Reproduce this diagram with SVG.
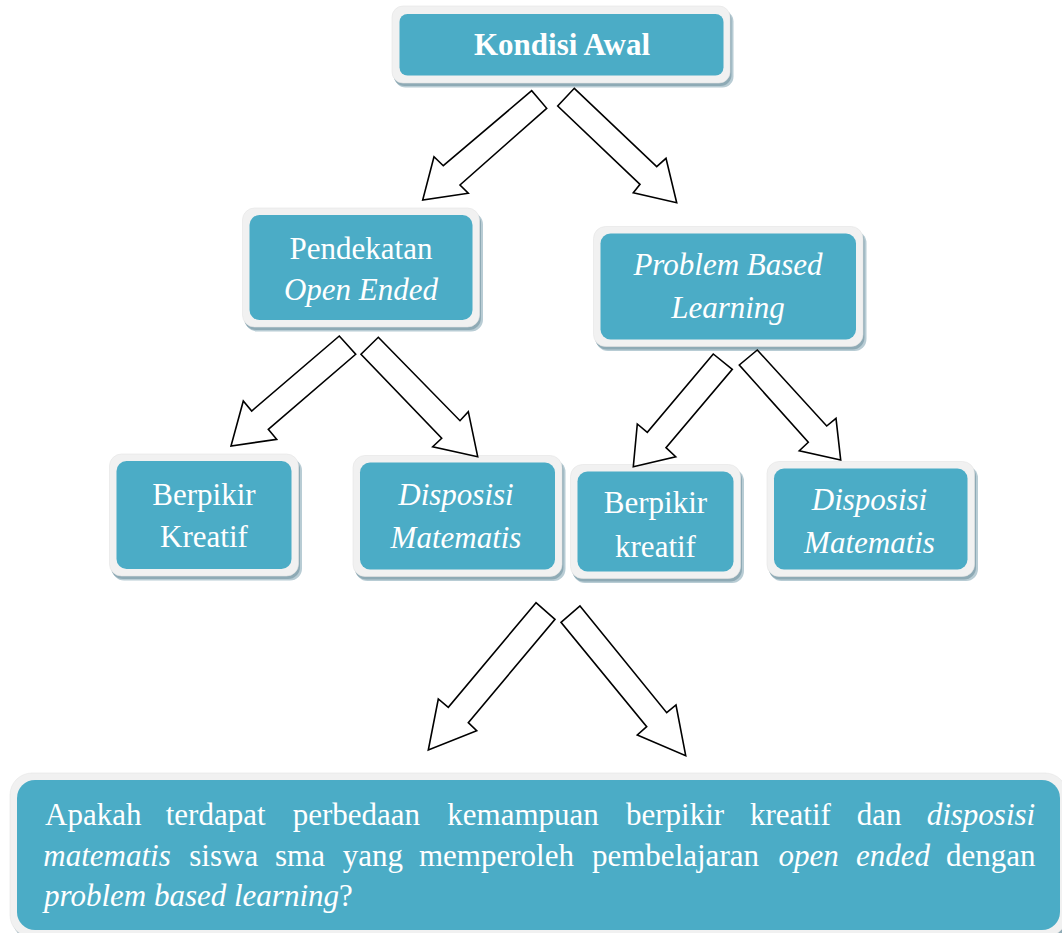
<svg xmlns="http://www.w3.org/2000/svg" width="1062" height="933" viewBox="0 0 1062 933">
<style>
.shadow2{fill:#b8ccd4}
.shadow{fill:#8eaab5}
.frame{fill:#f1f1f1;stroke:#e4e4e4;stroke-width:0.6}
.inner{fill:#4bacc6}
.t{font-family:"Liberation Serif","Times New Roman",serif;font-size:31px;fill:#ffffff;text-anchor:middle}
.tb{font-family:"Liberation Serif","Times New Roman",serif;font-size:31px;fill:#ffffff}
.i{font-style:italic}
.b{font-weight:bold}
.arrow{fill:#ffffff;stroke:#000000;stroke-width:1.6;stroke-linejoin:miter}
</style>
<defs>
<clipPath id="clipBottom"><rect x="17" y="780" width="1043" height="133"/></clipPath>
</defs>
<rect width="1062" height="933" fill="#ffffff"/>

<g id="node-kondisi-awal">
<rect class="shadow2" x="394.5" y="10.5" width="339" height="77" rx="11"/>
<rect class="shadow" x="393.5" y="9" width="338" height="77" rx="11"/>
<rect class="frame" x="392" y="6" width="338" height="77" rx="11"/>
<rect class="inner" x="399.5" y="14" width="324" height="61.5" rx="8"/>
<text class="t b" x="562" y="55">Kondisi Awal</text>
</g>

<g id="node-open-ended">
<rect class="shadow2" x="245" y="212.5" width="238" height="119" rx="12"/>
<rect class="shadow" x="244" y="211" width="237" height="119" rx="12"/>
<rect class="frame" x="242.5" y="208" width="237" height="119" rx="12"/>
<rect class="inner" x="249.5" y="215" width="223" height="105" rx="10"/>
<text class="t" x="361" y="259">Pendekatan</text>
<text class="t i" x="361" y="300">Open Ended</text>
</g>

<g id="node-pbl">
<rect class="shadow2" x="596" y="231" width="270.5" height="120" rx="12"/>
<rect class="shadow" x="595" y="229.5" width="269.5" height="120" rx="12"/>
<rect class="frame" x="593.5" y="226.5" width="269.5" height="120" rx="12"/>
<rect class="inner" x="600.5" y="233.5" width="255.5" height="106" rx="10"/>
<text class="t i" x="728" y="275">Problem Based</text>
<text class="t i" x="728" y="318">Learning</text>
</g>

<g id="node-berpikir-kreatif-1">
<rect class="shadow2" x="112" y="458.5" width="190" height="122" rx="12"/>
<rect class="shadow" x="111" y="457" width="189" height="122" rx="12"/>
<rect class="frame" x="109.5" y="454" width="189" height="122" rx="12"/>
<rect class="inner" x="116.5" y="461" width="175" height="108" rx="10"/>
<text class="t" x="204" y="505">Berpikir</text>
<text class="t" x="204" y="547">Kreatif</text>
</g>

<g id="node-disposisi-1">
<rect class="shadow2" x="355.5" y="460" width="210" height="121" rx="12"/>
<rect class="shadow" x="354.5" y="458.5" width="209" height="121" rx="12"/>
<rect class="frame" x="353" y="455.5" width="209" height="121" rx="12"/>
<rect class="inner" x="360" y="462.5" width="195" height="107" rx="10"/>
<text class="t i" x="456" y="505">Disposisi</text>
<text class="t i" x="456" y="548">Matematis</text>
</g>

<g id="node-berpikir-kreatif-2">
<rect class="shadow2" x="573" y="469" width="171" height="114" rx="12"/>
<rect class="shadow" x="572" y="467.5" width="170" height="114" rx="12"/>
<rect class="frame" x="570.5" y="464.5" width="170" height="114" rx="12"/>
<rect class="inner" x="577.5" y="471.5" width="156" height="100" rx="10"/>
<text class="t" x="655.5" y="513">Berpikir</text>
<text class="t" x="655.5" y="557">kreatif</text>
</g>

<g id="node-disposisi-2">
<rect class="shadow2" x="769.5" y="466" width="208.5" height="115" rx="12"/>
<rect class="shadow" x="768.5" y="464.5" width="207.5" height="115" rx="12"/>
<rect class="frame" x="767" y="461.5" width="207.5" height="115" rx="12"/>
<rect class="inner" x="774" y="468.5" width="193.5" height="101" rx="10"/>
<text class="t i" x="869.5" y="510">Disposisi</text>
<text class="t i" x="869.5" y="553">Matematis</text>
</g>

<g id="node-question">
<rect class="shadow" x="12" y="776" width="1057" height="164" rx="22"/>
<rect class="frame" x="10" y="773" width="1057" height="164" rx="22"/>
<rect class="inner" x="17" y="780" width="1043" height="150" rx="18"/>
<g clip-path="url(#clipBottom)">
<text class="tb" y="825"><tspan x="45">Apakah</tspan><tspan x="165.7">terdapat</tspan><tspan x="292.7">perbedaan</tspan><tspan x="447.3">kemampuan</tspan><tspan x="626">berpikir</tspan><tspan x="750">kreatif</tspan><tspan x="856.7">dan</tspan><tspan class="i" x="926.7">disposisi</tspan></text>
<text class="tb" y="866"><tspan class="i" x="43.3">matematis</tspan><tspan x="189.3">siswa</tspan><tspan x="275">sma</tspan><tspan x="342.7">yang</tspan><tspan x="419">memperoleh</tspan><tspan x="592">pembelajaran</tspan><tspan class="i" x="778.5">open</tspan><tspan class="i" x="856">ended</tspan><tspan x="946">dengan</tspan></text>
<text class="tb" y="906"><tspan class="i" x="44">problem based learning</tspan><tspan>?</tspan></text>
</g>
</g>

<g id="connectors">
<polygon class="arrow" points="531.7,90.7 443.3,165.7 434,156.7 422.7,200 468.3,193.3 460,185 546.7,108.3"/>
<polygon class="arrow" points="574.3,88.3 656.7,166.7 666,158.3 676.7,202.7 633.3,192.7 640,184.3 557.7,106"/>
<polygon class="arrow" points="339.3,336 251.7,411 243.3,401 231,446 276.7,439.3 268.3,429.3 355.7,354.3"/>
<polygon class="arrow" points="378.3,337.3 460,420.7 468.3,411.7 477.7,456.7 432.7,446.7 441.7,438.3 361,354.3"/>
<polygon class="arrow" points="713.3,354 647.3,432.3 637.3,424 633.3,466.7 675.7,456.7 666,447.7 732.3,369.3"/>
<polygon class="arrow" points="757.3,350 826.7,426 836,418.3 840.7,460 799.3,450.7 808.3,442.3 739.3,365"/>
<polygon class="arrow" points="536,602.7 448.3,707.3 438.3,699 428.3,750 476.7,730.7 468.3,722.7 555,619.3"/>
<polygon class="arrow" points="580,606 666.7,712.7 676,705 685.7,755.7 637.3,735 646.7,726.7 561,622.3"/>
</g>
</svg>
